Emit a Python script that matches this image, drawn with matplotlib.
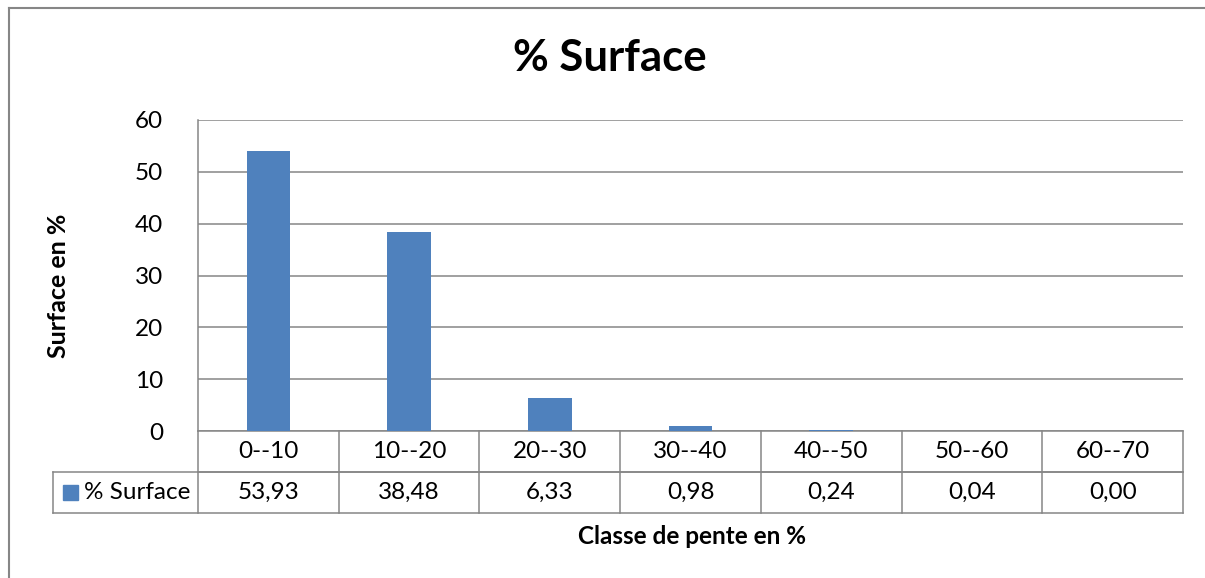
import matplotlib.pyplot as plt
from matplotlib.lines import Line2D
from matplotlib.patches import Rectangle

plt.rcParams['font.family'] = ['Lato', 'DejaVu Sans']

categories = ['0--10', '10--20', '20--30', '30--40', '40--50', '50--60', '60--70']
surface = [53.93, 38.48, 6.33, 0.98, 0.24, 0.04, 0.00]
series_name = '% Surface'

W, H = 1205, 578
bar_color = '#4F81BD'
line_color = '#868686'
fs = 17.5

fig = plt.figure(figsize=(W / 100, H / 100), dpi=100)
ax = fig.add_axes([198 / W, 1 - 431 / H, 985 / W, 311 / H])

x = list(range(len(categories)))
ax.bar(x, surface, width=0.31, color=bar_color, zorder=3)
ax.set_xlim(-0.5, len(categories) - 0.5)
ax.set_ylim(0, 60)
ax.set_yticks(range(0, 61, 10))
ax.yaxis.grid(True, color=line_color, lw=1.1)
ax.set_axisbelow(True)
ax.set_xticks([])
ax.tick_params(axis='y', length=0, pad=25, labelsize=fs)
for s in ['top', 'right']:
    ax.spines[s].set_visible(False)
for s in ['left', 'bottom']:
    ax.spines[s].set_color(line_color)
    ax.spines[s].set_linewidth(1.1)

# data table under the plot
h = 41 / 311
xleg = -145 / 985
trans = ax.get_xaxis_transform()
kw = dict(color=line_color, lw=1.1, clip_on=False)
ax.plot([0, 1], [-h, -h], transform=ax.transAxes, **kw)
ax.plot([xleg, 1], [-h, -h], transform=ax.transAxes, **kw)
ax.plot([xleg, 1], [-2 * h, -2 * h], transform=ax.transAxes, **kw)
ax.plot([xleg, xleg], [-h, -2 * h], transform=ax.transAxes, **kw)
for b in range(len(categories) + 1):
    ax.plot([b - 0.5, b - 0.5], [0, -2 * h], transform=trans, **kw)

for i, (cat, val) in enumerate(zip(categories, surface)):
    ax.text(i, -h / 2, cat, transform=trans, ha='center', va='center', fontsize=fs)
    ax.text(i, -1.5 * h, f'{val:.2f}'.replace('.', ','), transform=trans,
            ha='center', va='center', fontsize=fs)

ax.add_patch(Rectangle(((63 - 198) / 985, -(500 - 431) / 311), 15 / 985, 15 / 311,
                       transform=ax.transAxes, color=bar_color, clip_on=False))
ax.text((84 - 198) / 985, -1.5 * h, series_name, transform=ax.transAxes,
        ha='left', va='center', fontsize=fs)

fig.text(610 / W, 1 - 58 / H, '% Surface', ha='center', va='center',
         fontsize=31.5, fontweight='bold')
fig.text(58 / W, 1 - 286 / H, 'Surface en %', ha='center', va='center',
         rotation=90, fontsize=18, fontweight='bold')
fig.text(692 / W, 1 - 537 / H, 'Classe de pente en %', ha='center', va='center',
         fontsize=17.5, fontweight='bold')

# chart area border (cut by the image edges on the right and bottom)
fig.add_artist(Line2D([9 / W, 9 / W], [0, 1 - 8 / H], color=line_color, lw=1.5))
fig.add_artist(Line2D([9 / W, 1], [1 - 8 / H, 1 - 8 / H], color=line_color, lw=1.5))

fig.savefig('out.png', dpi=100)
